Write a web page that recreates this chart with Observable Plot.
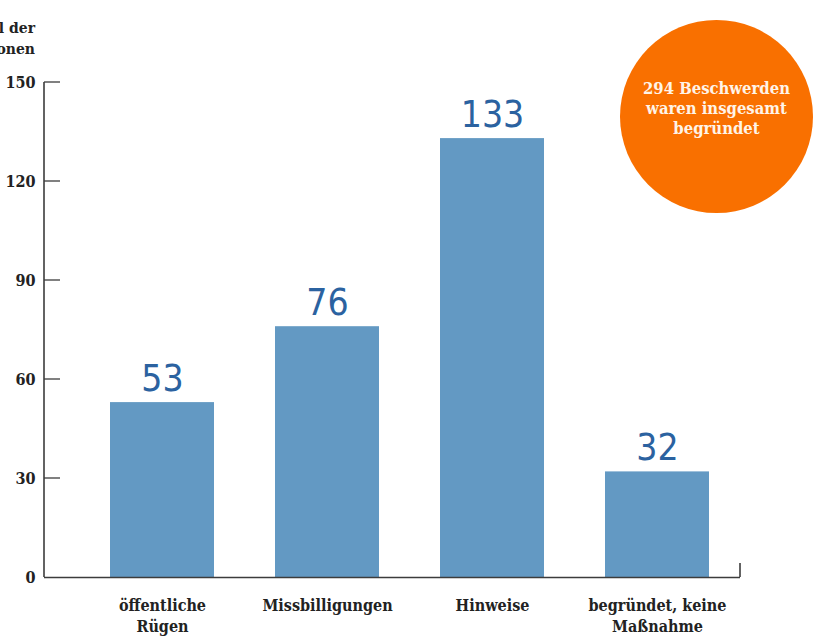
<!DOCTYPE html>
<html>
<head>
<meta charset="utf-8">
<script src="https://cdn.jsdelivr.net/npm/d3@7"></script>
<script src="https://cdn.jsdelivr.net/npm/@observablehq/plot@0.6"></script>
<style>
  html, body { margin: 0; padding: 0; background: #fff; }
  #wrap { position: relative; width: 814px; height: 638px; overflow: hidden; }
  #ytitle { position: absolute; right: 779px; top: 17px; text-align: right; white-space: nowrap;
    font: bold 15.5px "DejaVu Serif Condensed", "DejaVu Serif", serif; line-height: 21px; color: #222; }
  #bubble { position: absolute; left: 620px; top: 20px; width: 193px; height: 193px; border-radius: 50%;
    background: #f97000; }
  #bubble div { position: absolute; left: 0; right: 0; top: 59px; text-align: center;
    font: bold 16.5px "DejaVu Serif Condensed", "DejaVu Serif", serif; line-height: 20px; color: #fff4e8; }
</style>
</head>
<body>
<div id="wrap">
  <div id="chart"></div>
  <div id="ytitle">Anzahl der<br>Sanktionen</div>
  <div id="bubble"><div>294 Beschwerden<br>waren insgesamt<br>begründet</div></div>
</div>
<script>
const categories = ["öffentliche Rügen", "Missbilligungen", "Hinweise", "begründet, keine Maßnahme"];
const tickLabels = ["öffentliche\nRügen", "Missbilligungen", "Hinweise", "begründet, keine\nMaßnahme"];
const values = [53, 76, 133, 32];
const yTicks = [0, 30, 60, 90, 120, 150];

const data = categories.map((c, i) => ({cat: c, value: values[i], label: tickLabels[i]}));
const labelOf = new Map(categories.map((c, i) => [c, tickLabels[i]]));

function axisLines(...args) {
  const dims = args.find(a => a && typeof a === "object" && "marginLeft" in a);
  const scales = args.find(a => a && typeof a === "object" && typeof a.y === "function");
  const y = scales.y;
  const g = d3.create("svg:g").attr("stroke", "#3c3c3c").attr("stroke-width", 1.6).attr("fill", "none");
  const xl = dims.marginLeft, xr = dims.width - dims.marginRight;
  g.append("line").attr("x1", xl).attr("x2", xl).attr("y1", y(yTicks[yTicks.length - 1])).attr("y2", y(0));
  g.append("line").attr("x1", xr).attr("x2", xr).attr("y1", y(0)).attr("y2", y(0) - 14);
  for (const t of yTicks.filter(d => d > 0)) {
    g.append("line").attr("x1", xl).attr("x2", xl + 16).attr("y1", y(t)).attr("y2", y(t)).attr("stroke-width", 1.3);
  }
  return g.node();
}

const serif = "DejaVu Serif Condensed, DejaVu Serif, serif";

const chart = Plot.plot({
  width: 814,
  height: 638,
  marginLeft: 44,
  marginRight: 74,
  marginTop: 82,
  marginBottom: 61,
  style: {background: "transparent", color: "#222"},
  x: {type: "band", domain: categories, range: [44, 775], paddingInner: 0.367, paddingOuter: 0.386, label: null},
  y: {domain: [0, 150], label: null},
  marks: [
    Plot.barY(data, {x: "cat", y: "value", fill: "#6399c3"}),
    Plot.ruleY([0], {stroke: "#3c3c3c", strokeWidth: 1.6}),
    axisLines,
    Plot.axisY({ticks: yTicks, tickSize: 0, tickPadding: 9, fontFamily: serif, fontSize: 16, fontWeight: "bold", fill: "#222"}),
    Plot.axisX({tickSize: 0, tickPadding: 18, tickFormat: d => labelOf.get(d), fontFamily: serif, fontSize: 16, fontWeight: "bold", fill: "#222", lineHeight: 1.35}),
    Plot.text(data, {x: "cat", y: "value", text: d => String(d.value), dy: -12, lineAnchor: "bottom",
      fontFamily: "DejaVu Sans Condensed, DejaVu Sans, sans-serif", fontSize: 37, fill: "#2b62a0"})
  ]
});
document.getElementById("chart").appendChild(chart);
</script>
</body>
</html>
